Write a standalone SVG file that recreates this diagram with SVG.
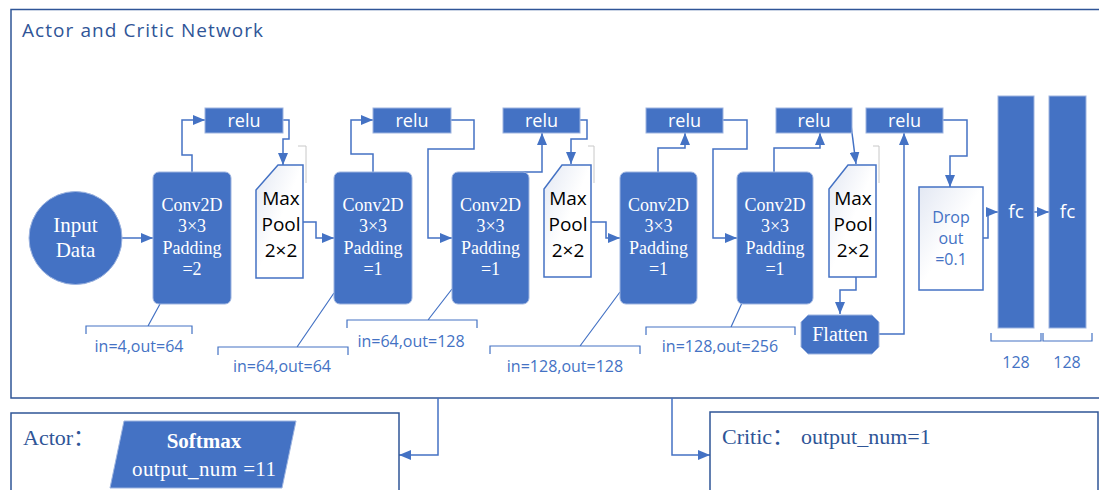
<svg xmlns="http://www.w3.org/2000/svg" width="1099" height="490" viewBox="0 0 1099 490">
<style>
.frame{fill:none;stroke:#2F5597;stroke-width:1.5}
.blk{fill:#4472C4;stroke:#9DB4E0;stroke-width:1}
.pool{fill:url(#pg);stroke:#4472C4;stroke-width:1.5}
.conn{fill:none;stroke:#4472C4;stroke-width:1.5}
.ann{fill:none;stroke:#4472C4;stroke-width:1.2}
.art{fill:none;stroke:#C8C8C8;stroke-width:1}
.serifW{font-family:"Liberation Serif","Times New Roman",serif;fill:#fff;text-anchor:middle}
.sansW{font-family:"Open Sans","Noto Sans",sans-serif;fill:#fff;text-anchor:middle}
.sansK{font-family:"Open Sans","Noto Sans",sans-serif;fill:#000;text-anchor:middle;font-size:19px}
.lab{font-family:"Open Sans","Noto Sans",sans-serif;fill:#4472C4;text-anchor:middle;font-size:16px}
.conv{font-size:18px}
.relu{font-size:18px}
.dark{font-family:"Liberation Serif","Times New Roman","Noto Sans CJK SC",serif;fill:#2F5597;font-size:22px}
</style>
<defs>
<linearGradient id="pg" x1="0" y1="0" x2="1" y2="1">
<stop offset="0" stop-color="#E3E8F3"/>
<stop offset="0.5" stop-color="#FFFFFF"/>
<stop offset="1" stop-color="#FFFFFF"/>
</linearGradient>
<marker id="ah" viewBox="0 0 12 10" refX="12" refY="5" markerWidth="12" markerHeight="10" orient="auto" markerUnits="userSpaceOnUse">
<path d="M0,0 L12,5 L0,10 z" fill="#4472C4"/>
</marker>
</defs>

<g id="frame-network">
<rect class="frame" x="11" y="9.5" width="1100" height="388.5"/>
<text x="22" y="37" font-family="'Open Sans','Noto Sans',sans-serif" font-size="19" fill="#2F5597" textLength="241">Actor and Critic Network</text>
</g>

<g id="connectors">
<path class="conn" marker-end="url(#ah)" d="M122,238 H153"/>
<path class="conn" marker-end="url(#ah)" d="M192,172 V155 H182 V120 H205"/>
<path class="conn" marker-end="url(#ah)" d="M283,120 H289 V139 H283 V165"/>
<path class="conn" marker-end="url(#ah)" d="M303,222 H316 V238 H334"/>
<path class="conn" marker-end="url(#ah)" d="M373,172 V154 H351 V120 H373"/>
<path class="conn" marker-end="url(#ah)" d="M451,120 H474 V149 H428 V238 H452"/>
<path class="conn" marker-end="url(#ah)" d="M490,172 H542 V133"/>
<path class="conn" marker-end="url(#ah)" d="M580,120 H587 V139 H571 V164"/>
<path class="conn" marker-end="url(#ah)" d="M591,222 H606 V238 H620"/>
<path class="conn" marker-end="url(#ah)" d="M658,172 V148 H685 V133"/>
<path class="conn" marker-end="url(#ah)" d="M723,120 H747 V149 H713 V238 H737"/>
<path class="conn" marker-end="url(#ah)" d="M774,172 V148 H820 V133"/>
<path class="conn" marker-end="url(#ah)" d="M851,125 L856,164"/>
<path class="conn" marker-end="url(#ah)" d="M856,277 V290 H840 V314"/>
<path class="conn" marker-end="url(#ah)" d="M879,334 H904 V133"/>
<path class="conn" marker-end="url(#ah)" d="M943,120 H967 V156 H950 V187"/>
<path class="conn" marker-end="url(#ah)" d="M983,238 H988 V212 H998"/>
<path class="conn" marker-end="url(#ah)" d="M1034,212 H1049"/>
<path class="conn" marker-end="url(#ah)" d="M438,398 V455 H399"/>
<path class="conn" marker-end="url(#ah)" d="M672,398 V455 H710"/>
</g>

<g id="annotations">
<path class="ann" d="M86,334 V326 H192 V334 M148,326 L160,304"/>
<path class="ann" d="M218,355 V347 H348 V355 M297,347 L334,293"/>
<path class="ann" d="M347,328 V320 H477 V328 M428,320 L452,289"/>
<path class="ann" d="M490,354 V346 H640 V354 M580,346 L620,292"/>
<path class="ann" d="M646,335 V327 H795 V335 M731,327 L742,303"/>
<path class="ann" d="M991,333 V341 H1041 V333 M1043,333 V341 H1092 V333"/>
<path class="art" d="M298,146 H306 V183 M588,146 H594 V183 M873,146 H879 V183"/>
<text class="lab" x="139" y="352">in=4,out=64</text>
<text class="lab" x="282" y="372">in=64,out=64</text>
<text class="lab" x="411" y="347">in=64,out=128</text>
<text class="lab" x="565" y="372">in=128,out=128</text>
<text class="lab" x="720" y="352">in=128,out=256</text>
<text class="lab" x="1016" y="368">128</text>
<text class="lab" x="1067" y="368">128</text>
</g>

<g id="input">
<circle class="blk" cx="75.5" cy="238" r="46.5"/>
<text class="serifW" font-size="21" x="75.5" y="232">Input</text>
<text class="serifW" font-size="21" x="75.5" y="257">Data</text>
</g>

<g id="conv1">
<rect class="blk" x="153" y="172" width="78" height="132" rx="6"/>
<text class="serifW conv" x="192" y="211">Conv2D</text>
<text class="serifW conv" x="192" y="232">3×3</text>
<text class="serifW conv" x="192" y="254">Padding</text>
<text class="serifW conv" x="192" y="275">=2</text>
</g>
<g id="relu1"><rect class="blk" x="205" y="108" width="78" height="25"/><text class="sansW relu" x="244" y="127">relu</text></g>
<g id="maxpool1">
<polygon class="pool" points="278,165 303,165 303,278 256,278 256,190"/>
<text class="sansK" x="281" y="205">Max</text>
<text class="sansK" x="281" y="231">Pool</text>
<text class="sansK" x="281" y="257">2×2</text>
</g>

<g id="conv2">
<rect class="blk" x="334" y="172" width="78" height="132" rx="6"/>
<text class="serifW conv" x="373" y="211">Conv2D</text>
<text class="serifW conv" x="373" y="232">3×3</text>
<text class="serifW conv" x="373" y="254">Padding</text>
<text class="serifW conv" x="373" y="275">=1</text>
</g>
<g id="relu2"><rect class="blk" x="373" y="108" width="78" height="25"/><text class="sansW relu" x="412" y="127">relu</text></g>

<g id="conv3">
<rect class="blk" x="452" y="172" width="77" height="132" rx="6"/>
<text class="serifW conv" x="490.5" y="211">Conv2D</text>
<text class="serifW conv" x="490.5" y="232">3×3</text>
<text class="serifW conv" x="490.5" y="254">Padding</text>
<text class="serifW conv" x="490.5" y="275">=1</text>
</g>
<g id="relu3"><rect class="blk" x="503" y="108" width="77" height="25"/><text class="sansW relu" x="541.5" y="127">relu</text></g>
<g id="maxpool2">
<polygon class="pool" points="562,165 591,165 591,277 544,277 544,189"/>
<text class="sansK" x="568" y="205">Max</text>
<text class="sansK" x="568" y="231">Pool</text>
<text class="sansK" x="568" y="257">2×2</text>
</g>

<g id="conv4">
<rect class="blk" x="620" y="172" width="77" height="132" rx="6"/>
<text class="serifW conv" x="658.5" y="211">Conv2D</text>
<text class="serifW conv" x="658.5" y="232">3×3</text>
<text class="serifW conv" x="658.5" y="254">Padding</text>
<text class="serifW conv" x="658.5" y="275">=1</text>
</g>
<g id="relu4"><rect class="blk" x="646" y="108" width="77" height="25"/><text class="sansW relu" x="684.5" y="127">relu</text></g>

<g id="conv5">
<rect class="blk" x="737" y="172" width="76" height="132" rx="6"/>
<text class="serifW conv" x="775" y="211">Conv2D</text>
<text class="serifW conv" x="775" y="232">3×3</text>
<text class="serifW conv" x="775" y="254">Padding</text>
<text class="serifW conv" x="775" y="275">=1</text>
</g>
<g id="relu5"><rect class="blk" x="776" y="108" width="76" height="25"/><text class="sansW relu" x="814" y="127">relu</text></g>
<g id="maxpool3">
<polygon class="pool" points="848,165 876,165 876,277 829,277 829,189"/>
<text class="sansK" x="853" y="205">Max</text>
<text class="sansK" x="853" y="231">Pool</text>
<text class="sansK" x="853" y="257">2×2</text>
</g>

<g id="flatten">
<polygon class="blk" points="808,315 872,315 879,322 879,347 872,354 808,354 801,347 801,322"/>
<text class="serifW" font-size="20" x="840" y="341">Flatten</text>
</g>
<g id="relu6"><rect class="blk" x="866" y="108" width="77" height="25"/><text class="sansW relu" x="904.5" y="127">relu</text></g>

<g id="dropout">
<rect class="pool" x="919" y="187" width="64" height="103"/>
<text class="lab" font-size="15.5" x="951" y="223">Drop</text>
<text class="lab" font-size="15.5" x="951" y="244">out</text>
<text class="lab" font-size="15.5" x="951" y="265">=0.1</text>
</g>

<g id="fc1"><rect class="blk" x="998" y="96" width="36" height="232"/><text class="sansW" font-size="19" x="1016" y="218">fc</text></g>
<g id="fc2"><rect class="blk" x="1049" y="96" width="37" height="232"/><text class="sansW" font-size="19" x="1067.5" y="218">fc</text></g>

<g id="actor">
<rect class="frame" x="11" y="413" width="388" height="100"/>
<text class="dark" x="23" y="445">Actor：</text>
<polygon class="blk" points="124,421 296,421 282,488 110,488"/>
<text class="serifW" font-size="21" font-weight="bold" x="204" y="448">Softmax</text>
<text class="serifW" font-size="21" x="204" y="476" textLength="144">output_num =11</text>
</g>

<g id="critic">
<rect class="frame" x="710" y="412" width="388" height="100"/>
<text class="dark" x="722" y="444">Critic：<tspan x="801">output_num=1</tspan></text>
</g>
</svg>
